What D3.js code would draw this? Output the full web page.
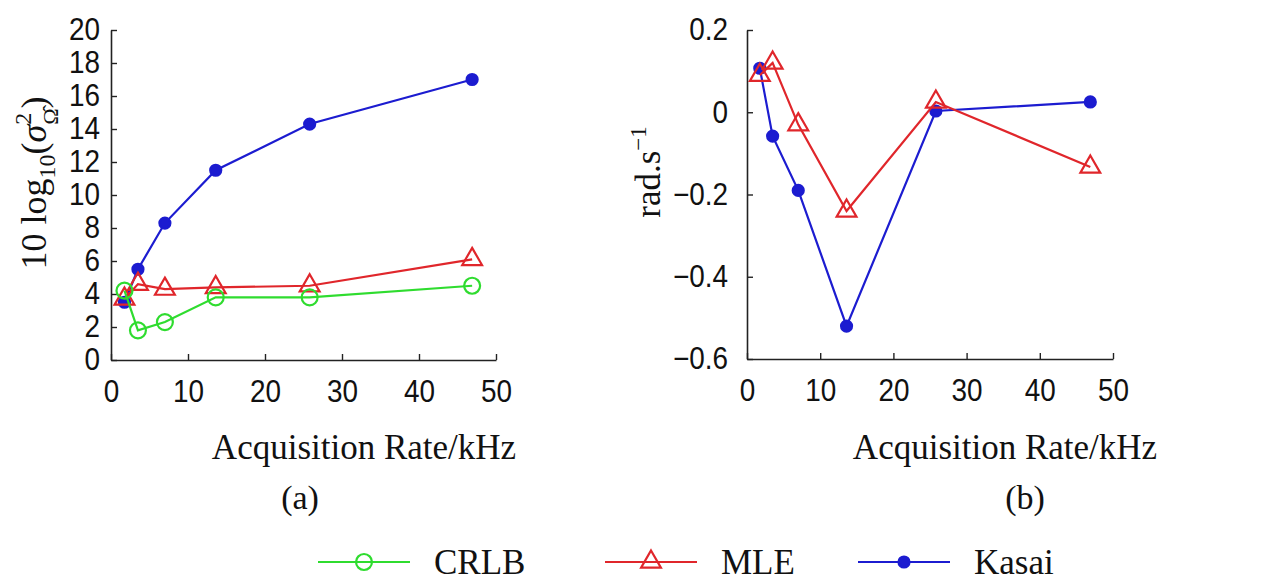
<!DOCTYPE html>
<html lang="en">
<head>
<meta charset="UTF-8">
<title>Acquisition rate comparison</title>
<script src="https://cdn.jsdelivr.net/npm/d3@7"></script>
<style>
    body { margin: 0; background: #fff; }
    .tick text { font-family: "Liberation Sans", Arial, sans-serif; font-size: 31px; fill: #111; }
    .serif { font-family: "Liberation Serif", "Times New Roman", serif; fill: #111; }
</style>
</head>
<body>
<div id="chart"></div>
<script>
    // data
    const rates = [1.75, 3.5, 7, 13.6, 25.8, 46.9];
    const crlbA = [4.2, 1.8, 2.3, 3.8, 3.8, 4.5];
    const mleA = [3.7, 4.6, 4.3, 4.4, 4.5, 6.1];
    const kasaiA = [3.5, 5.5, 8.3, 11.5, 14.3, 17.0];
    const mleB = [0.09, 0.12, -0.03, -0.24, 0.025, -0.133];
    const kasaiB = [0.107, -0.058, -0.19, -0.52, 0.003, 0.025];
    const xTicks = [0, 10, 20, 30, 40, 50];
    const yTicksA = [0, 2, 4, 6, 8, 10, 12, 14, 16, 18, 20];
    const yTicksB = [0.2, 0, -0.2, -0.4, -0.6];

    const colors = { crlb: "#2fdc2f", mle: "#e0262b", kasai: "#1c1cd0" };
    const squeeze = 0.9; // tick digits in the figure are narrow

    const svg = d3.select("#chart").append("svg")
        .attr("width", 1261).attr("height", 582);

    function drawPanel(opt) {
        const x = d3.scaleLinear().domain([0, 50]).range([opt.x0, opt.x1]);
        const y = d3.scaleLinear().domain(opt.yDomain).range([opt.y0, opt.y1]);

        const g = svg.append("g");
        g.append("g").attr("transform", `translate(0,${opt.y0})`)
            .call(d3.axisBottom(x).tickValues(xTicks).tickSizeInner(-6).tickSizeOuter(0).tickPadding(14))
            .call(a => a.select(".domain").attr("stroke", "#222").attr("stroke-width", 1.6))
            .call(a => a.selectAll(".tick line").attr("stroke", "#222").attr("stroke-width", 1.4))
            .call(a => a.selectAll(".tick text").attr("dy", "0.9em").attr("transform", `scale(${squeeze},1)`));
        g.append("g").attr("transform", `translate(${opt.x0},0)`)
            .call(d3.axisLeft(y).tickValues(opt.yTicks).tickFormat(opt.fmt).tickSizeInner(-6).tickSizeOuter(0).tickPadding(opt.pad / squeeze))
            .call(a => a.select(".domain").attr("stroke", "#222").attr("stroke-width", 1.6))
            .call(a => a.selectAll(".tick line").attr("stroke", "#222").attr("stroke-width", 1.4))
            .call(a => a.selectAll(".tick text").attr("transform", `scale(${squeeze},1)`));

        opt.series.forEach(s => {
            const pts = rates.map((r, i) => [x(r), y(s.values[i])]);
            g.append("path").attr("d", d3.line()(pts))
                .attr("fill", "none").attr("stroke", s.color).attr("stroke-width", 2.2);
            g.selectAll(null).data(pts).enter().append("path")
                .attr("transform", d => `translate(${d[0]},${d[1]})`)
                .attr("d", d3.symbol().type(s.symbol).size(s.size))
                .attr("fill", s.fill ? s.color : "none")
                .attr("stroke", s.color).attr("stroke-width", 2.2);
        });

        g.append("text").attr("class", "serif")
            .attr("x", opt.titleX).attr("y", 459)
            .attr("text-anchor", "middle").style("font-size", "35px")
            .text("Acquisition Rate/kHz");
        g.append("text").attr("class", "serif")
            .attr("x", opt.capX).attr("y", 509)
            .attr("text-anchor", "middle").style("font-size", "34px")
            .text(opt.caption);
        return g;
    }

    const crlbS = { color: colors.crlb, symbol: d3.symbolCircle, size: 200, fill: false };
    const mleS = { color: colors.mle, symbol: d3.symbolTriangle, size: 170, fill: false };
    const kasaiS = { color: colors.kasai, symbol: d3.symbolCircle, size: 95, fill: true };

    drawPanel({
        x0: 111, x1: 496, y0: 360, y1: 30, yDomain: [0, 20], yTicks: yTicksA,
        fmt: d3.format("d"), pad: 11, caption: "(a)", capX: 300, titleX: 364,
        series: [
            Object.assign({ values: kasaiA }, kasaiS),
            Object.assign({ values: mleA }, mleS),
            Object.assign({ values: crlbA }, crlbS)
        ]
    });

    drawPanel({
        x0: 747, x1: 1113, y0: 359, y1: 30, yDomain: [-0.6, 0.2], yTicks: yTicksB,
        fmt: d => d === 0 ? "0" : d3.format(".1f")(d).replace("-", "\u2212"), pad: 19,
        caption: "(b)", capX: 1025, titleX: 1005,
        series: [
            Object.assign({ values: kasaiB }, kasaiS),
            Object.assign({ values: mleB }, mleS)
        ]
    });

    // y labels
    const yl = svg.append("text").attr("class", "serif")
        .attr("transform", "translate(46,183) rotate(-90)")
        .attr("text-anchor", "middle").style("font-size", "36px");
    yl.append("tspan").text("10 log");
    yl.append("tspan").attr("dy", 9).style("font-size", "24px").text("10");
    yl.append("tspan").attr("dy", -9).text("(");
    yl.append("tspan").style("font-style", "italic").text("σ");
    yl.append("tspan").attr("dy", -15).style("font-size", "24px").text("2");
    yl.append("tspan").attr("dx", -12).attr("dy", 27).style("font-size", "22px").text("Ω\u0302");
    yl.append("tspan").attr("dy", -12).text(")");

    const yr = svg.append("text").attr("class", "serif")
        .attr("transform", "translate(660,172) rotate(-90)")
        .attr("text-anchor", "middle").style("font-size", "35px");
    yr.append("tspan").text("rad.s");
    yr.append("tspan").attr("dy", -14).style("font-size", "23px").text("\u22121");

    // legend
    const legendItems = [
        { name: "CRLB", s: crlbS, x: 318 },
        { name: "MLE", s: mleS, x: 605 },
        { name: "Kasai", s: kasaiS, x: 858 }
    ];
    const lg = svg.append("g");
    legendItems.forEach(it => {
        lg.append("line").attr("x1", it.x).attr("x2", it.x + 92)
            .attr("y1", 562).attr("y2", 562)
            .attr("stroke", it.s.color).attr("stroke-width", 2.2);
        lg.append("path").attr("transform", `translate(${it.x + 46},562)`)
            .attr("d", d3.symbol().type(it.s.symbol).size(it.s.size))
            .attr("fill", it.s.fill ? it.s.color : "none")
            .attr("stroke", it.s.color).attr("stroke-width", 2.2);
        lg.append("text").attr("class", "serif")
            .attr("x", it.x + 116).attr("y", 574).style("font-size", "35px")
            .text(it.name);
    });
</script>
</body>
</html>
